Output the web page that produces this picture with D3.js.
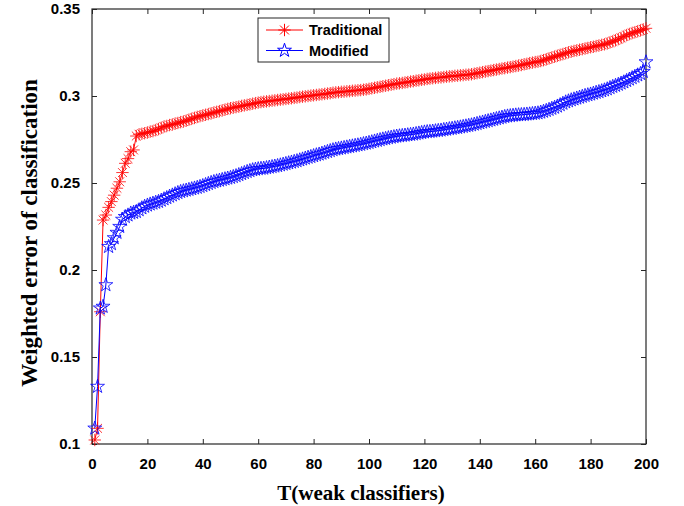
<!DOCTYPE html>
<html>
<head>
<meta charset="utf-8">
<script src="https://cdn.jsdelivr.net/npm/d3@7"></script>
<style>
  html, body { margin: 0; padding: 0; background: #fff; }
  .tick text { font-family: "Liberation Sans", Arial, sans-serif; font-weight: bold; font-size: 15px; fill: #000; }
  .axisTitle { font-family: "Liberation Serif", "Times New Roman", serif; font-weight: bold; font-size: 21px; fill: #000; }
  .legendText { font-family: "Liberation Sans", Arial, sans-serif; font-weight: bold; font-size: 14.5px; fill: #000; }
</style>
</head>
<body>
<svg id="chart" width="684" height="506"></svg>
<script>

// x positions (number of weak classifiers)
var tValues = d3.range(1, 201);

var xTicks = [0, 20, 40, 60, 80, 100, 120, 140, 160, 180, 200];
var yTicks = [0.1, 0.15, 0.2, 0.25, 0.3, 0.35];

var seriesNames = ['Traditional', 'Modified'];

// weighted error, t = 1..200
var traditional = [
  0.1023, 0.1090, 0.1760, 0.2287, 0.2316, 0.2360, 0.2393, 0.2430, 0.2470, 0.2507,
  0.2560, 0.2613, 0.2640, 0.2680, 0.2690, 0.2770, 0.2780, 0.2783, 0.2786, 0.2790,
  0.2795, 0.2798, 0.2804, 0.2810, 0.2817, 0.2824, 0.2828, 0.2833, 0.2836, 0.2841,
  0.2845, 0.2850, 0.2853, 0.2858, 0.2864, 0.2869, 0.2874, 0.2880, 0.2884, 0.2888,
  0.2892, 0.2896, 0.2900, 0.2905, 0.2909, 0.2913, 0.2917, 0.2921, 0.2926, 0.2930,
  0.2933, 0.2936, 0.2939, 0.2943, 0.2946, 0.2949, 0.2952, 0.2956, 0.2959, 0.2962,
  0.2965, 0.2967, 0.2969, 0.2971, 0.2973, 0.2975, 0.2977, 0.2979, 0.2981, 0.2983,
  0.2985, 0.2987, 0.2989, 0.2991, 0.2994, 0.2996, 0.2998, 0.3000, 0.3002, 0.3004,
  0.3006, 0.3008, 0.3010, 0.3012, 0.3014, 0.3016, 0.3019, 0.3021, 0.3022, 0.3024,
  0.3025, 0.3027, 0.3028, 0.3030, 0.3031, 0.3033, 0.3034, 0.3036, 0.3038, 0.3041,
  0.3044, 0.3047, 0.3050, 0.3053, 0.3056, 0.3059, 0.3062, 0.3065, 0.3068, 0.3071,
  0.3073, 0.3075, 0.3078, 0.3080, 0.3083, 0.3085, 0.3088, 0.3090, 0.3093, 0.3095,
  0.3098, 0.3100, 0.3102, 0.3104, 0.3106, 0.3107, 0.3109, 0.3111, 0.3113, 0.3114,
  0.3116, 0.3117, 0.3119, 0.3120, 0.3122, 0.3123, 0.3125, 0.3128, 0.3131, 0.3134,
  0.3137, 0.3140, 0.3143, 0.3146, 0.3149, 0.3152, 0.3155, 0.3158, 0.3160, 0.3163,
  0.3166, 0.3169, 0.3172, 0.3175, 0.3178, 0.3182, 0.3185, 0.3189, 0.3192, 0.3195,
  0.3197, 0.3201, 0.3206, 0.3211, 0.3216, 0.3221, 0.3226, 0.3231, 0.3236, 0.3241,
  0.3246, 0.3251, 0.3255, 0.3259, 0.3262, 0.3266, 0.3269, 0.3273, 0.3276, 0.3280,
  0.3283, 0.3287, 0.3290, 0.3294, 0.3297, 0.3302, 0.3308, 0.3314, 0.3320, 0.3327,
  0.3334, 0.3342, 0.3350, 0.3356, 0.3362, 0.3367, 0.3372, 0.3377, 0.3383, 0.3389
];

var modified = [
  0.1090, 0.1330, 0.1780, 0.1790, 0.1914, 0.2134, 0.2150, 0.2184, 0.2215, 0.2249,
  0.2290, 0.2306, 0.2315, 0.2326, 0.2330, 0.2335, 0.2345, 0.2356, 0.2365, 0.2372,
  0.2378, 0.2383, 0.2388, 0.2393, 0.2400, 0.2408, 0.2415, 0.2423, 0.2430, 0.2437,
  0.2444, 0.2450, 0.2454, 0.2458, 0.2462, 0.2466, 0.2470, 0.2474, 0.2479, 0.2484,
  0.2490, 0.2496, 0.2502, 0.2507, 0.2511, 0.2515, 0.2519, 0.2523, 0.2527, 0.2531,
  0.2536, 0.2541, 0.2547, 0.2553, 0.2559, 0.2565, 0.2570, 0.2575, 0.2578, 0.2581,
  0.2583, 0.2584, 0.2587, 0.2590, 0.2593, 0.2596, 0.2599, 0.2603, 0.2607, 0.2611,
  0.2615, 0.2619, 0.2623, 0.2627, 0.2632, 0.2637, 0.2642, 0.2647, 0.2651, 0.2656,
  0.2661, 0.2665, 0.2670, 0.2675, 0.2680, 0.2685, 0.2690, 0.2694, 0.2697, 0.2700,
  0.2703, 0.2706, 0.2709, 0.2712, 0.2715, 0.2718, 0.2721, 0.2725, 0.2728, 0.2732,
  0.2736, 0.2740, 0.2744, 0.2748, 0.2752, 0.2755, 0.2759, 0.2762, 0.2765, 0.2768,
  0.2770, 0.2772, 0.2774, 0.2776, 0.2778, 0.2780, 0.2783, 0.2786, 0.2789, 0.2792,
  0.2794, 0.2795, 0.2797, 0.2799, 0.2801, 0.2803, 0.2806, 0.2808, 0.2811, 0.2813,
  0.2816, 0.2818, 0.2821, 0.2824, 0.2827, 0.2830, 0.2833, 0.2837, 0.2841, 0.2845,
  0.2849, 0.2853, 0.2857, 0.2861, 0.2865, 0.2869, 0.2873, 0.2877, 0.2881, 0.2884,
  0.2886, 0.2888, 0.2890, 0.2891, 0.2892, 0.2893, 0.2895, 0.2896, 0.2898, 0.2900,
  0.2902, 0.2906, 0.2911, 0.2916, 0.2922, 0.2928, 0.2934, 0.2941, 0.2949, 0.2957,
  0.2965, 0.2971, 0.2977, 0.2982, 0.2987, 0.2992, 0.2997, 0.3002, 0.3006, 0.3010,
  0.3015, 0.3020, 0.3024, 0.3029, 0.3034, 0.3040, 0.3047, 0.3054, 0.3060, 0.3066,
  0.3073, 0.3080, 0.3088, 0.3096, 0.3104, 0.3112, 0.3120, 0.3128, 0.3140, 0.3195
];

var svg = d3.select('#chart');

var margin = {top: 9, right: 38, bottom: 62, left: 92};
var width = 684 - margin.left - margin.right;
var height = 506 - margin.top - margin.bottom;

var x = d3.scaleLinear().domain([0, 200]).range([0, width]);
var y = d3.scaleLinear().domain([0.1, 0.35]).range([height, 0]);

var g = svg.append('g').attr('transform', 'translate(' + margin.left + ',' + margin.top + ')');

var axisColor = '#262626';
var tickLen = 5;

// bottom axis with labels, ticks pointing inside
g.append('g')
  .attr('transform', 'translate(0,' + height + ')')
  .call(d3.axisBottom(x).tickValues(xTicks).tickFormat(d3.format('d')).tickSize(-tickLen).tickPadding(14));

g.append('g')
  .call(d3.axisLeft(y).tickValues(yTicks).tickFormat(function(d){ return String(+d.toFixed(2)); }).tickSize(-tickLen).tickPadding(12));

// mirrored ticks on top and right
g.append('g')
  .call(d3.axisTop(x).tickValues(xTicks).tickFormat('').tickSize(-tickLen));
g.append('g')
  .attr('transform', 'translate(' + width + ',0)')
  .call(d3.axisRight(y).tickValues(yTicks).tickFormat('').tickSize(-tickLen));

g.selectAll('.domain').remove();
g.selectAll('.tick line').attr('stroke', axisColor);

g.append('rect')
  .attr('width', width)
  .attr('height', height)
  .attr('fill', 'none')
  .attr('stroke', axisColor)
  .attr('stroke-width', 1.2);

// series
var line = d3.line()
  .x(function(d){ return x(d.t); })
  .y(function(d){ return y(d.v); });

var asterisk = function(r){
  var d = r * 0.72;
  return 'M' + (-r) + ',0L' + r + ',0M0,' + (-r) + 'L0,' + r +
         'M' + (-d) + ',' + (-d) + 'L' + d + ',' + d + 'M' + (-d) + ',' + d + 'L' + d + ',' + (-d);
};
var star = d3.symbol().type(d3.symbolStar).size(60)();

var series = [
  {name: seriesNames[0], color: '#ff0000', values: traditional, marker: asterisk(6.2)},
  {name: seriesNames[1], color: '#0000ff', values: modified, marker: star}
];

series.forEach(function(s){
  var pts = s.values.map(function(v, i){ return {t: tValues[i], v: v}; });

  g.append('path')
    .datum(pts)
    .attr('d', line)
    .attr('fill', 'none')
    .attr('stroke', s.color)
    .attr('stroke-width', 1);

  g.append('g').selectAll('path')
    .data(pts)
    .enter().append('path')
    .attr('d', s.marker)
    .attr('transform', function(d){ return 'translate(' + x(d.t) + ',' + y(d.v) + ')'; })
    .attr('fill', 'none')
    .attr('stroke', s.color)
    .attr('stroke-width', 0.8);
});

// legend
var legend = g.append('g').attr('transform', 'translate(' + (258 - margin.left) + ',' + (18 - margin.top) + ')');

legend.append('rect')
  .attr('width', 131)
  .attr('height', 44)
  .attr('fill', '#fff')
  .attr('stroke', axisColor)
  .attr('stroke-width', 1);

series.forEach(function(s, i){
  var ly = 12 + i * 20.5;
  legend.append('line')
    .attr('x1', 8).attr('x2', 45)
    .attr('y1', ly).attr('y2', ly)
    .attr('stroke', s.color)
    .attr('stroke-width', 1);
  legend.append('path')
    .attr('d', s.marker)
    .attr('transform', 'translate(26.5,' + ly + ')')
    .attr('fill', 'none')
    .attr('stroke', s.color)
    .attr('stroke-width', 1);
  legend.append('text')
    .attr('class', 'legendText')
    .attr('x', 51)
    .attr('y', ly + 5)
    .text(s.name);
});

// axis titles
svg.append('text')
  .attr('class', 'axisTitle')
  .attr('text-anchor', 'middle')
  .attr('x', margin.left + x(100) - 8)
  .attr('y', 500)
  .text('T(weak classifiers)');

svg.append('text')
  .attr('class', 'axisTitle')
  .style('font-size', '23px')
  .attr('text-anchor', 'middle')
  .attr('transform', 'translate(37,233) rotate(-90)')
  .text('Weighted error of classification');

</script>
</body>
</html>
